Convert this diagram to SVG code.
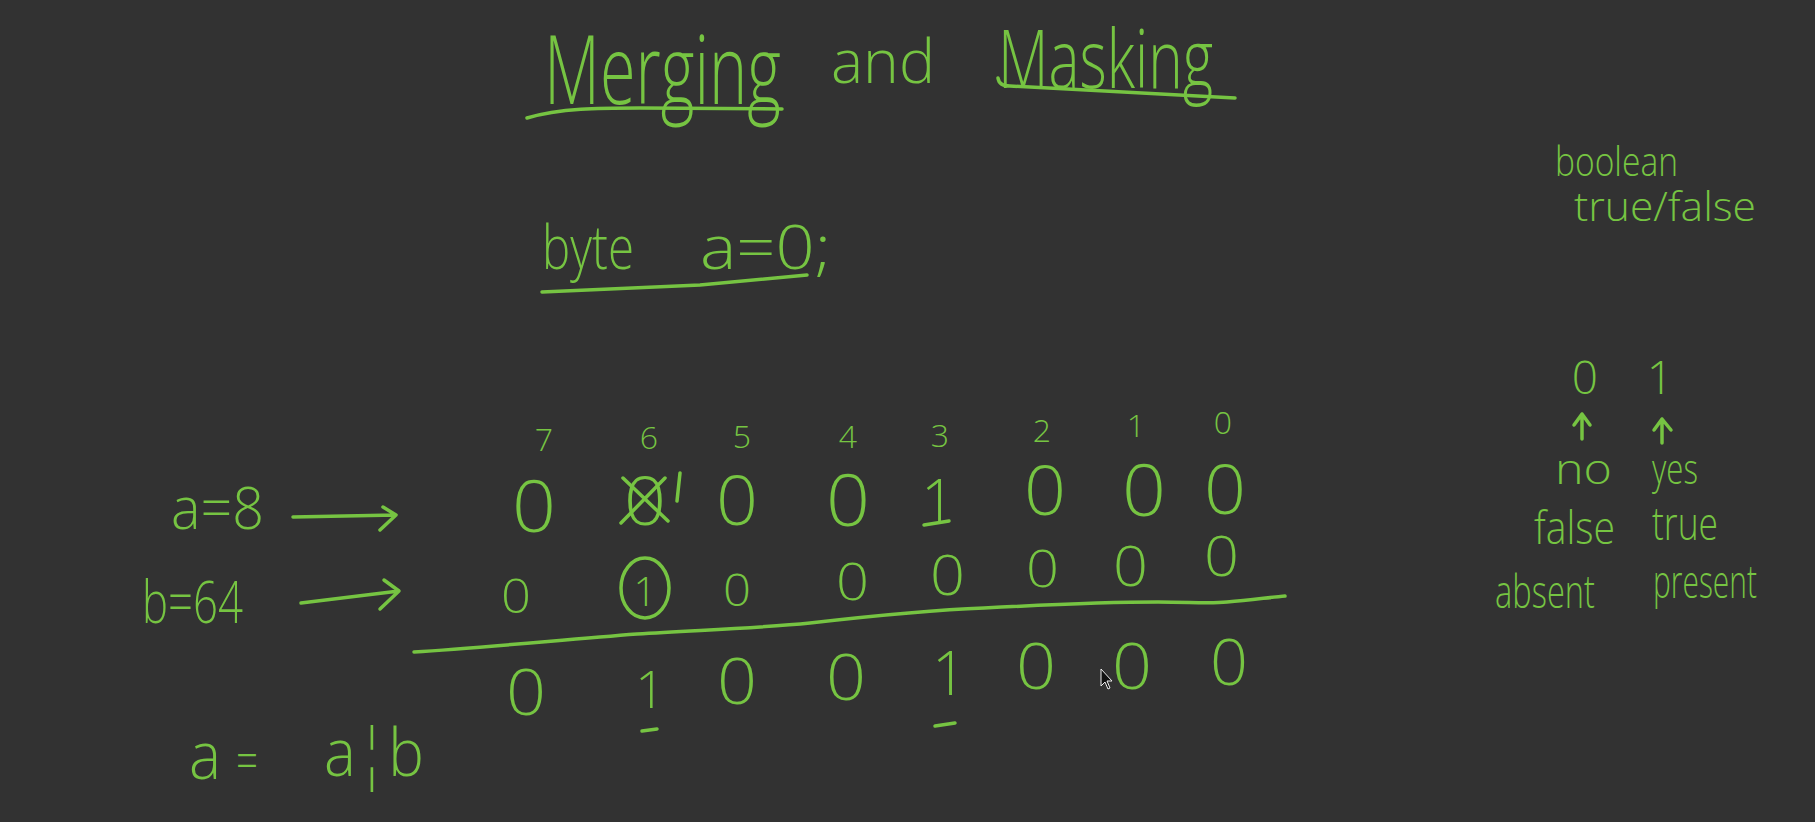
<svg xmlns="http://www.w3.org/2000/svg" width="1815" height="822" viewBox="0 0 1815 822">
<style>
text{font-family:"Open Sans","Noto Sans","Liberation Sans",sans-serif;font-weight:300;fill:#76c442}
.ln{fill:none;stroke:#76c442;stroke-width:3.5;stroke-linecap:round;stroke-linejoin:round}
.mid{text-anchor:middle}
</style>
<rect x="0" y="0" width="1815" height="822" fill="#323232"/>
<g id="title">
<text x="544" y="104" font-size="96" textLength="237" lengthAdjust="spacingAndGlyphs">Merging</text>
<text x="831" y="83" font-size="60" textLength="104" lengthAdjust="spacingAndGlyphs">and</text>
<text x="998" y="88" font-size="82" textLength="215" lengthAdjust="spacingAndGlyphs">Masking</text>
<path class="ln" d="M527,118 C560,108 600,108 640,108 L782,109"/>
<path class="ln" d="M998,78 Q999,86 1010,86 L1235,98"/>
</g>
<g id="declaration">
<text x="542" y="269" font-size="60" textLength="92" lengthAdjust="spacingAndGlyphs">byte</text>
<text x="700" y="269" font-size="60" textLength="131" lengthAdjust="spacingAndGlyphs">a=0;</text>
<path class="ln" d="M542,292 C600,289 650,287 700,285 L807,275"/>
</g>
<g id="legend">
<text x="1555" y="176" font-size="40" textLength="123" lengthAdjust="spacingAndGlyphs">boolean</text>
<text x="1574" y="221" font-size="40" textLength="182" lengthAdjust="spacingAndGlyphs">true/false</text>
<text x="1585" y="394" font-size="46" class="mid">0</text>
<text x="1660" y="394" font-size="46" class="mid">1</text>
<text x="1555" y="484" font-size="43" textLength="57" lengthAdjust="spacingAndGlyphs">no</text>
<text x="1652" y="484" font-size="43" textLength="46" lengthAdjust="spacingAndGlyphs">yes</text>
<text x="1534" y="544" font-size="46" textLength="81" lengthAdjust="spacingAndGlyphs">false</text>
<text x="1652" y="540" font-size="46" textLength="66" lengthAdjust="spacingAndGlyphs">true</text>
<text x="1495" y="608" font-size="46" textLength="100" lengthAdjust="spacingAndGlyphs">absent</text>
<text x="1653" y="598" font-size="46" textLength="104" lengthAdjust="spacingAndGlyphs">present</text>
</g>
<g id="labels">
<text x="171" y="529" font-size="58" textLength="93" lengthAdjust="spacingAndGlyphs">a=8</text>
<text x="142" y="623" font-size="58" textLength="101" lengthAdjust="spacingAndGlyphs">b=64</text>
<text x="189" y="779" font-size="66" textLength="32" lengthAdjust="spacingAndGlyphs">a</text>
<text x="236" y="779" font-size="52" textLength="22" lengthAdjust="spacingAndGlyphs">=</text>
<text x="324" y="776" font-size="66" textLength="100" lengthAdjust="spacingAndGlyphs">a¦b</text>
</g>
<g id="indices" font-size="32">
<text x="544" y="451" class="mid">7</text>
<text x="649" y="449" class="mid">6</text>
<text x="742" y="448" class="mid">5</text>
<text x="848" y="448" class="mid">4</text>
<text x="940" y="447" class="mid">3</text>
<text x="1042" y="442" class="mid">2</text>
<text x="1136" y="437" class="mid">1</text>
<text x="1223" y="434" class="mid">0</text>
</g>
<g id="row-a">
<text x="512" y="532" font-size="72" textLength="44" lengthAdjust="spacingAndGlyphs">0</text>
<text x="624" y="525" font-size="66" textLength="42" lengthAdjust="spacingAndGlyphs">0</text>
<path class="ln" d="M623,478 L668,521 M621,523 L665,478 M680,473 L677,501"/>
<text x="716" y="525" font-size="68" textLength="42" lengthAdjust="spacingAndGlyphs">0</text>
<text x="826" y="526" font-size="72" textLength="44" lengthAdjust="spacingAndGlyphs">0</text>
<text x="938" y="523" font-size="60" class="mid">1</text>
<path class="ln" d="M924,525 L949,521"/>
<text x="1024" y="515" font-size="68" textLength="42" lengthAdjust="spacingAndGlyphs">0</text>
<text x="1122" y="516" font-size="72" textLength="44" lengthAdjust="spacingAndGlyphs">0</text>
<text x="1204" y="514" font-size="68" textLength="42" lengthAdjust="spacingAndGlyphs">0</text>
</g>
<g id="row-b">
<text x="501" y="613" font-size="48" textLength="30" lengthAdjust="spacingAndGlyphs">0</text>
<ellipse class="ln" cx="645" cy="588" rx="24" ry="30"/>
<text x="645" y="606" font-size="40" class="mid">1</text>
<text x="723" y="606" font-size="45" textLength="28" lengthAdjust="spacingAndGlyphs">0</text>
<text x="836" y="600" font-size="52" textLength="33" lengthAdjust="spacingAndGlyphs">0</text>
<text x="930" y="595" font-size="55" textLength="35" lengthAdjust="spacingAndGlyphs">0</text>
<text x="1026" y="587" font-size="52" textLength="33" lengthAdjust="spacingAndGlyphs">0</text>
<text x="1113" y="586" font-size="55" textLength="35" lengthAdjust="spacingAndGlyphs">0</text>
<text x="1204" y="576" font-size="55" textLength="35" lengthAdjust="spacingAndGlyphs">0</text>
<path class="ln" d="M414,652 C480,648 560,640 637,634 C700,630 760,628 810,623 C880,615 930,610 984,608 C1060,604 1120,602 1158,602 C1190,602 1210,604 1227,602 C1250,600 1265,598 1285,596"/>
</g>
<g id="result">
<text x="506" y="715" font-size="64" textLength="40" lengthAdjust="spacingAndGlyphs">0</text>
<text x="650" y="708" font-size="52" class="mid">1</text>
<path class="ln" d="M642,731 L657,729" stroke-width="5"/>
<text x="717" y="704" font-size="64" textLength="40" lengthAdjust="spacingAndGlyphs">0</text>
<text x="826" y="700" font-size="64" textLength="40" lengthAdjust="spacingAndGlyphs">0</text>
<text x="949" y="695" font-size="60" class="mid">1</text>
<path class="ln" d="M935,726 L955,723" stroke-width="5"/>
<text x="1016" y="689" font-size="64" textLength="40" lengthAdjust="spacingAndGlyphs">0</text>
<text x="1112" y="689" font-size="64" textLength="40" lengthAdjust="spacingAndGlyphs">0</text>
<text x="1210" y="685" font-size="64" textLength="38" lengthAdjust="spacingAndGlyphs">0</text>
</g>
<g id="connectors">
<path class="ln" d="M293,517 L396,515 M383,507 L396,515 L380,530"/>
<path class="ln" d="M301,603 L399,591 M384,580 L399,591 L380,609"/>
<path class="ln" d="M1582,439 L1582,414 M1574,425 L1582,414 L1590,425"/>
<path class="ln" d="M1662,443 L1662,419 M1654,430 L1662,419 L1671,430"/>
</g>
<g id="cursor">
<path d="M1101,669 L1101,686 L1105,682 L1108,689 L1110,688 L1107,681 L1112,681 Z" fill="#111" stroke="#eee" stroke-width="1"/>
</g>
</svg>
